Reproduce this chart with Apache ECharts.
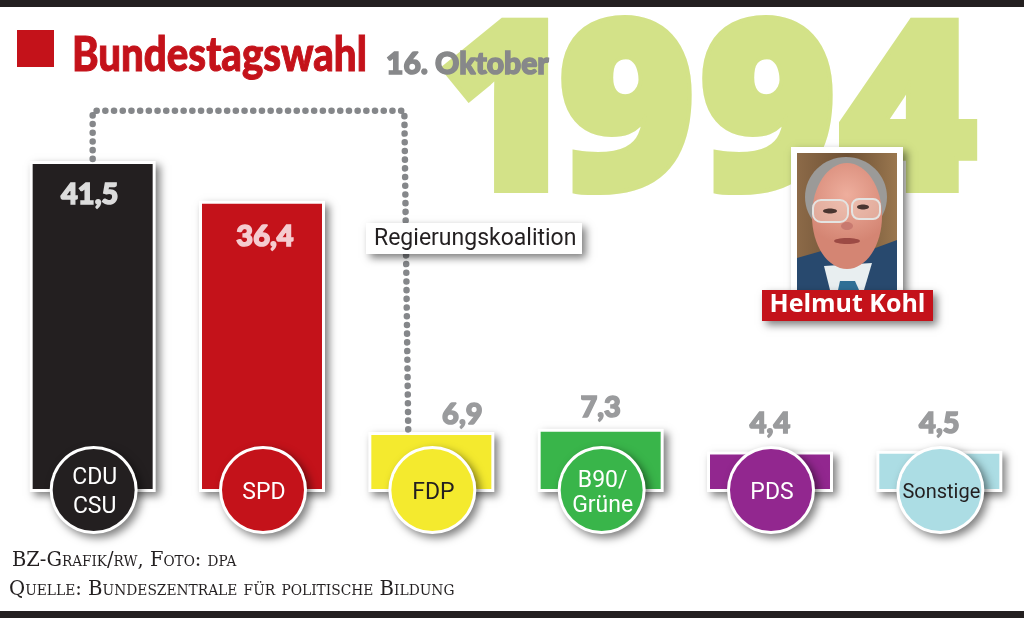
<!DOCTYPE html>
<html><head><meta charset="utf-8">
<style>html,body{margin:0;padding:0;background:#fff}#c{width:1024px;height:618px}</style>
<script src="https://cdn.jsdelivr.net/npm/echarts@6/dist/echarts.min.js"></script>
</head><body><div id="c"></div>
<script>
const parties = ['CDU\nCSU','SPD','FDP','B90/\nGrüne','PDS','Sonstige'];
const shares = [41.5,36.4,6.9,7.3,4.4,4.5];
const partyColors = ['#231f20','#c4121a','#f4ea2e','#39b54a','#92278f','#acdde4'];
const circleTextColors = ['#fff','#fff','#231f20','#fff','#fff','#231f20'];
const valueColors = ['#dcdcdc','#f5ccd0','#9a9b9d','#9a9b9d','#9a9b9d','#9a9b9d'];
const valueOffsets = [[-3,11],[3,13],[31,-1],[0,-5],[0,-11],[0,-11]];
const coalitionFrom = 0, coalitionTo = 2, coalitionTopValue = 48.3;
const titleText = 'Bundestagswahl', dateText = '16. Oktober', yearDigits = ['1','9','9','4'];
const coalitionText = 'Regierungskoalition', personText = 'Helmut Kohl';
const creditText = 'BZ-Grafik/rw, Foto: dpa', sourceText = 'Quelle: Bundeszentrale für politische Bildung';
const fmt = v => v.toFixed(1).replace('.',',');
const shadow = {shadowColor:'rgba(0,0,0,0.5)',shadowBlur:8,shadowOffsetX:4,shadowOffsetY:4};

const digit = (t,x) => ({type:'text',z:-10,x:x,y:240,silent:true,
  style:{text:t,fill:'#d3e288',stroke:'#d3e288',lineWidth:8,font:'800 235px "Open Sans"',textAlign:'left',textVerticalAlign:'bottom'}});

const chart = echarts.init(document.getElementById('c'),null,{renderer:'canvas'});
chart.setOption({
  animation:false,
  backgroundColor:'#fff',
  title:[
    {text:dateText,left:386,top:49,padding:0,textStyle:{fontFamily:'Lato',fontWeight:900,fontSize:30,color:'#87888a',textBorderColor:'#87888a',textBorderWidth:1.5}}
  ],
  grid:{left:8,top:19,width:1017,height:470,containLabel:false},
  xAxis:{type:'category',data:parties,show:false},
  yAxis:{type:'value',min:0,max:60,show:false},
  series:[
    {type:'custom',z:2,clip:false,coordinateSystem:'cartesian2d',
     data:shares.map((v,i)=>[i,v]),encode:{x:0,y:1},
     renderItem(params,api){
       const t=api.coord([api.value(0),api.value(1)]), b=api.coord([api.value(0),0]);
       return {type:'rect',shape:{x:t[0]-63,y:t[1]-3,width:126,height:b[1]-t[1]+6},
         style:Object.assign({fill:'#fff'},shadow)};
     }},
    {type:'bar',barWidth:120,z:3,
     data:shares.map((v,i)=>({value:v,
       itemStyle:{color:partyColors[i]},
       label:{show:true,position:i<2?'insideTop':'top',offset:valueOffsets[i],formatter:fmt(v),
         fontFamily:'Lato',fontWeight:900,fontSize:29,color:valueColors[i],textBorderColor:valueColors[i],textBorderWidth:1.5}}))},
    {type:'custom',z:4,clip:false,coordinateSystem:'cartesian2d',
     data:[[coalitionFrom,shares[coalitionFrom],coalitionTo,shares[coalitionTo]]],
     encode:{x:0,y:1},
     renderItem(params,api){
       const a=api.coord([api.value(0),api.value(1)]), b=api.coord([api.value(2),api.value(3)]);
       const top=api.coord([0,coalitionTopValue])[1];
       return {type:'polyline',shape:{points:[[a[0],a[1]-5],[a[0],top],[b[0]-27,top],[b[0]-23,b[1]+3]]},
         style:{fill:null,stroke:'#85878a',lineWidth:6.5,lineCap:'round',lineDash:[0.1,8.6]}};
     }},
    {type:'scatter',z:5,clip:false,symbol:'circle',symbolSize:88,symbolOffset:[1,1],silent:true,
     data:parties.map((p,i)=>({value:[i,0],itemStyle:Object.assign({color:'#fff',opacity:1},shadow)}))},
    {type:'scatter',z:6,clip:false,symbol:'circle',symbolSize:82,symbolOffset:[1,1],
     data:parties.map((p,i)=>({value:[i,0],name:p,
       itemStyle:{color:partyColors[i],opacity:1},
       label:{show:true,position:'inside',offset:[1,i===3?4:3],formatter:p,color:circleTextColors[i],
         fontFamily:'Roboto',fontSize:i===5?20:23,lineHeight:i===3?25:i===0?29:24}}))}
  ],
  graphic:[{elements:[
    {type:'rect',z:100,shape:{x:0,y:0,width:1024,height:7},style:{fill:'#231f20'}},
    {type:'rect',z:100,shape:{x:0,y:611,width:1024,height:7},style:{fill:'#231f20'}},
    {type:'rect',z:100,shape:{x:17,y:30,width:37,height:37},style:{fill:'#c4121a'}},
    {type:'text',z:100,x:72,y:56,scaleX:0.855,style:{text:titleText,fill:'#c4121a',stroke:'#c4121a',lineWidth:1,font:'900 47px Lato',textVerticalAlign:'middle'}},
    digit(yearDigits[0],436),
    digit(yearDigits[1],558),
    digit(yearDigits[2],699),
    digit(yearDigits[3],839),
    {type:'rect',z:20,shape:{x:366,y:223,width:216,height:31},style:Object.assign({fill:'#fff'},shadow)},
    {type:'text',z:21,x:374,y:239,style:{text:coalitionText,fill:'#231f20',font:'23px Roboto',textVerticalAlign:'middle'}},
    {type:'rect',z:20,shape:{x:791,y:147,width:112,height:150},style:Object.assign({fill:'#fff'},shadow)},
    {type:'rect',z:21,shape:{x:797,y:153,width:100,height:137},style:{fill:new echarts.graphic.LinearGradient(0,0,1,0,[{offset:0,color:'#8c6a48'},{offset:.5,color:'#6e5135'},{offset:1,color:'#9a774f'}])}},
    {type:'polygon',z:22,shape:{points:[[797,258],[825,250],[870,250],[897,240],[897,290],[797,290]]},style:{fill:'#28496e'}},
    {type:'polygon',z:23,shape:{points:[[824,266],[872,263],[864,290],[830,290]]},style:{fill:'#e8eef0'}},
    {type:'polygon',z:24,shape:{points:[[840,281],[855,281],[859,290],[838,290]]},style:{fill:'#2f6f96'}},
    {type:'ellipse',z:24,shape:{cx:846,cy:197,rx:41,ry:40},style:{fill:'#9b9a98'}},
    {type:'ellipse',z:25,shape:{cx:847,cy:216,rx:35,ry:53},style:{fill:new echarts.graphic.RadialGradient(.5,.3,.7,[{offset:0,color:'#eeae9d'},{offset:1,color:'#d48573'}])}},
    {type:'rect',z:27,shape:{x:813,y:200,width:35,height:22,r:8},style:{fill:'rgba(240,225,215,.35)',stroke:'#e4e4e2',lineWidth:2}},
    {type:'rect',z:27,shape:{x:852,y:199,width:28,height:20,r:7},style:{fill:'rgba(240,225,215,.35)',stroke:'#e4e4e2',lineWidth:2}},
    {type:'ellipse',z:28,shape:{cx:830,cy:211,rx:7,ry:2.5},style:{fill:'#4a3530'}},
    {type:'ellipse',z:28,shape:{cx:863,cy:207,rx:6,ry:2.5},style:{fill:'#4a3530'}},
    {type:'ellipse',z:28,shape:{cx:847,cy:226,rx:6,ry:4},style:{fill:'#c87a70'}},
    {type:'ellipse',z:28,shape:{cx:847,cy:241,rx:13,ry:3},style:{fill:'#9c4a44'}},
    {type:'rect',z:30,shape:{x:762,y:290,width:171,height:31},style:Object.assign({fill:'#c4121a'},shadow)},
    {type:'text',z:31,x:847.5,y:305,style:{text:personText,fill:'#fff',font:'bold 25px "Open Sans"',textAlign:'center',textVerticalAlign:'middle'}},
    {type:'text',z:31,x:12,y:561,scaleX:0.973,style:{text:creditText,fill:'#231f20',font:'small-caps 20px "DejaVu Serif"',textVerticalAlign:'middle'}},
    {type:'text',z:31,x:9,y:590,scaleX:0.985,style:{text:sourceText,fill:'#231f20',font:'small-caps 20px "DejaVu Serif"',textVerticalAlign:'middle'}}
  ]}]
});
</script></body></html>
